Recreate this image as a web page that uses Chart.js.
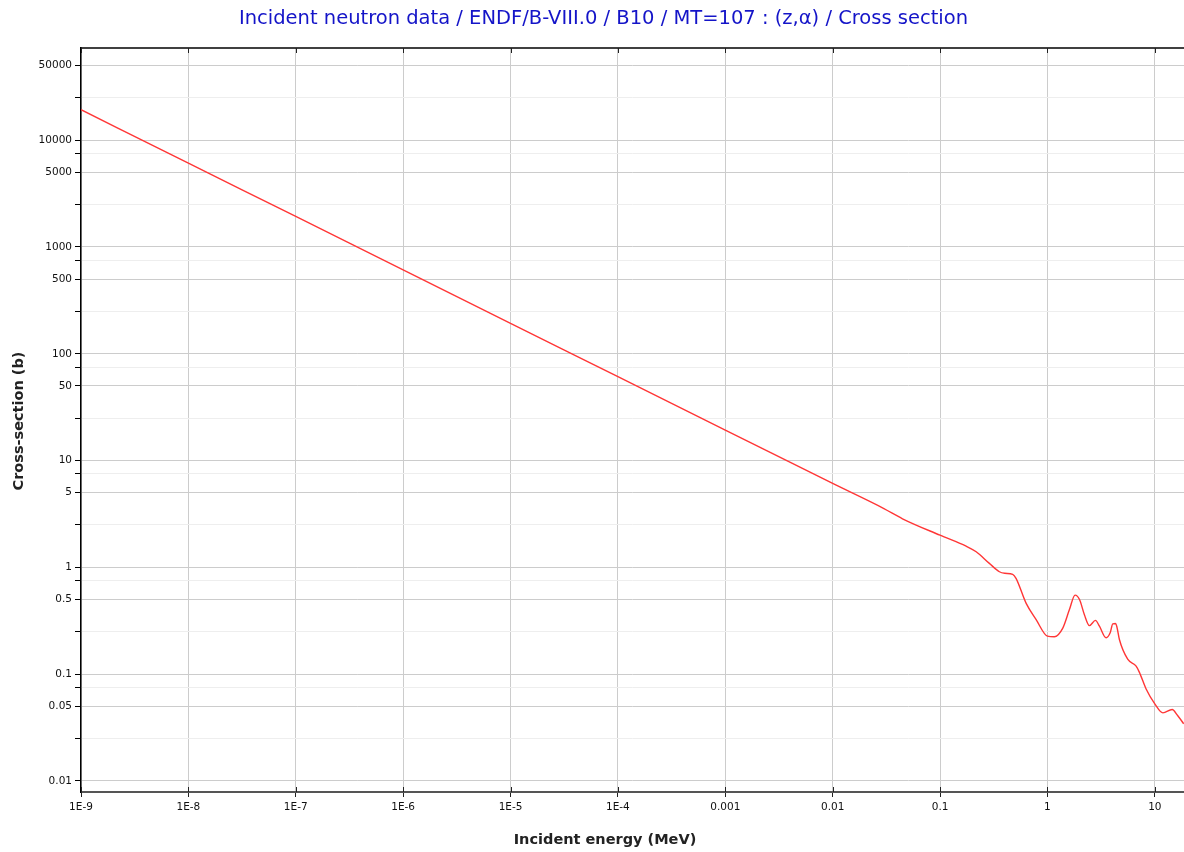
<!DOCTYPE html>
<html>
<head>
<meta charset="utf-8">
<script src="https://cdn.jsdelivr.net/npm/chart.js@4"></script>
<style>
  html, body { margin: 0; padding: 0; background: #fff; }
  #wrap { width: 1184px; height: 852px; position: relative; }
</style>
</head>
<body>
<div id="wrap"><canvas id="c"></canvas></div>
<script>
// ---- data ----
const titleText = "Incident neutron data / ENDF/B-VIII.0 / B10 / MT=107 : (z,\u03b1) / Cross section";
const xTitle = "Incident energy (MeV)";
const yTitle = "Cross-section (b)";

const energy = [1e-9, 1e-8, 1e-7, 1e-6, 1e-5, 1e-4, 1e-3, 0.01, 0.03, 0.0447, 0.1, 0.175, 0.217, 0.288, 0.357, 0.40, 0.475, 0.51, 0.634, 0.785, 1.0, 1.16, 1.39, 1.60, 1.81, 1.99, 2.21, 2.46, 2.80, 3.05, 3.52, 3.84, 4.06, 4.30, 4.42, 4.68, 5.59, 6.70, 7.19, 8.30, 10.0, 11.9, 14.5, 16.3, 18.6];
const sigma = [19300, 6100, 1930, 610, 193, 61, 19.3, 6.1, 3.55, 2.85, 2.0, 1.58, 1.40, 1.09, 0.91, 0.88, 0.86, 0.79, 0.46, 0.324, 0.227, 0.224, 0.27, 0.40, 0.55, 0.50, 0.36, 0.285, 0.319, 0.281, 0.219, 0.244, 0.296, 0.298, 0.281, 0.211, 0.138, 0.119, 0.104, 0.0726, 0.0527, 0.0434, 0.0467, 0.041, 0.0343];

const xTickValues = [1e-9, 1e-8, 1e-7, 1e-6, 1e-5, 1e-4, 1e-3, 0.01, 0.1, 1, 10];
const xTickLabels = ["1E-9", "1E-8", "1E-7", "1E-6", "1E-5", "1E-4", "0.001", "0.01", "0.1", "1", "10"];

const yMajorValues = [0.01, 0.05, 0.1, 0.5, 1, 5, 10, 50, 100, 500, 1000, 5000, 10000, 50000];
const yMajorLabels = ["0.01", "0.05", "0.1", "0.5", "1", "5", "10", "50", "100", "500", "1000", "5000", "10000", "50000"];
const yMinorValues = [0.025, 0.075, 0.25, 0.75, 2.5, 7.5, 25, 75, 250, 750, 2500, 7500, 25000];

const xMin = 1e-9, xMax = 18.7;
const yMin = 0.00788, yMax = 73000;

// ---- chart ----
const points = energy.map((e, i) => ({ x: e, y: sigma[i] }));
const yAllTicks = yMajorValues.concat(yMinorValues).sort((a, b) => a - b);

function isMajorY(v) {
  return yMajorValues.some(m => Math.abs(m - v) / m < 1e-6);
}
function yLabel(v) {
  const i = yMajorValues.findIndex(m => Math.abs(m - v) / m < 1e-6);
  return i >= 0 ? yMajorLabels[i] : "";
}
function xLabel(v) {
  const i = xTickValues.findIndex(m => Math.abs(m - v) / m < 1e-6);
  return i >= 0 ? xTickLabels[i] : "";
}

const frame = {
  id: 'frame',
  afterDraw(chart) {
    const { ctx, chartArea } = chart;
    const xs = chart.scales.x;
    ctx.save();
    // top border
    ctx.strokeStyle = '#000';
    ctx.lineWidth = 1.5;
    ctx.beginPath();
    ctx.moveTo(chartArea.left, chartArea.top);
    ctx.lineTo(chartArea.right, chartArea.top);
    ctx.stroke();
    // inward ticks top and bottom
    ctx.lineWidth = 1;
    ctx.strokeStyle = '#222';
    xTickValues.forEach(v => {
      const px = Math.round(xs.getPixelForValue(v)) + 0.5;
      ctx.beginPath();
      ctx.moveTo(px, chartArea.top);
      ctx.lineTo(px, chartArea.top + 5);
      ctx.moveTo(px, chartArea.bottom - 5);
      ctx.lineTo(px, chartArea.bottom);
      ctx.stroke();
    });
    // main title
    ctx.textAlign = 'center';
    ctx.textBaseline = 'middle';
    ctx.fillStyle = '#1414c8';
    ctx.font = '19.5px "DejaVu Sans"';
    ctx.fillText(titleText, 603.5, 18.5);
    // axis titles
    ctx.fillStyle = '#222';
    ctx.font = 'bold 14.5px "DejaVu Sans"';
    ctx.fillText(xTitle, 605, 840);
    ctx.translate(19, 421);
    ctx.rotate(-Math.PI / 2);
    ctx.fillText(yTitle, 0, 0);
    ctx.restore();
  }
};

new Chart(document.getElementById('c'), {
  type: 'line',
  data: {
    datasets: [{
      data: points,
      borderColor: '#ff3636',
      borderWidth: 1.4,
      pointRadius: 0,
      fill: false,
      cubicInterpolationMode: 'monotone'
    }]
  },
  options: {
    responsive: true,
    maintainAspectRatio: false,
    animation: false,
    layout: { padding: { left: 0, right: 0, top: 48, bottom: 0 } },
    plugins: {
      legend: { display: false },
      tooltip: { enabled: false },
      title: { display: false }
    },
    scales: {
      x: {
        type: 'logarithmic',
        min: xMin,
        max: xMax,
        afterBuildTicks(scale) { scale.ticks = xTickValues.map(v => ({ value: v })); },
        afterFit(scale) { scale.height = 60; },
        ticks: {
          autoSkip: false,
          maxRotation: 0,
          minRotation: 0,
          padding: 4,
          color: '#111',
          font: { family: 'DejaVu Sans', size: 10.5 },
          callback: (v) => xLabel(v)
        },
        grid: {
          color: '#cccccc',
          lineWidth: 1,
          tickLength: 5,
          tickColor: '#222',
          drawTicks: true
        },
        border: { color: '#555', width: 2 },
        title: { display: false }
      },
      y: {
        type: 'logarithmic',
        min: yMin,
        max: yMax,
        afterBuildTicks(scale) { scale.ticks = yAllTicks.map(v => ({ value: v })); },
        afterFit(scale) { scale.width = 81; },
        ticks: {
          autoSkip: false,
          padding: 3,
          color: '#111',
          font: { family: 'DejaVu Sans', size: 10.5 },
          callback: (v) => yLabel(v)
        },
        grid: {
          color: (ctx) => (ctx.tick && isMajorY(ctx.tick.value)) ? '#cccccc' : '#eeeeee',
          lineWidth: 1,
          tickLength: 6,
          tickColor: '#000'
        },
        border: { color: '#000', width: 1.5 },
        title: { display: false }
      }
    }
  },
  plugins: [frame]
});
</script>
</body>
</html>
